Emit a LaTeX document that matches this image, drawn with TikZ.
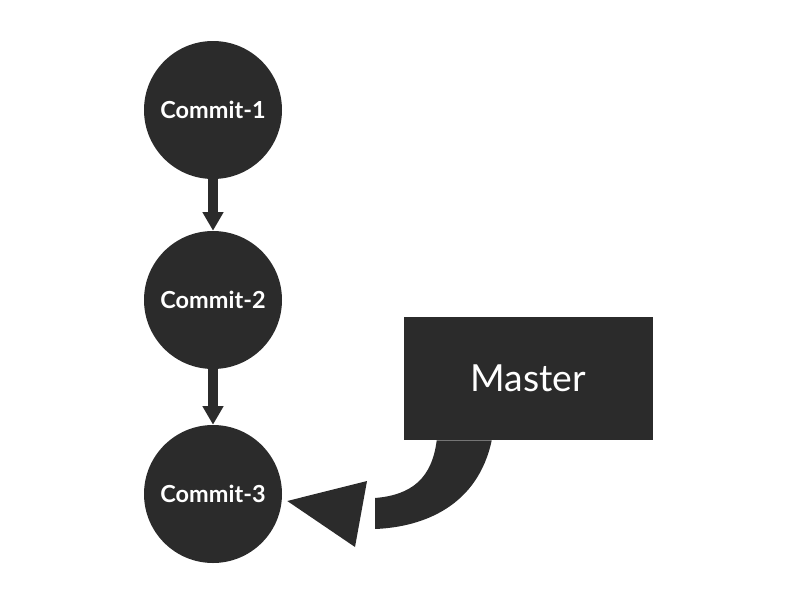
\documentclass[tikz,border=0pt]{standalone}
\usepackage{fontspec}
\setmainfont{Lato}
\usetikzlibrary{arrows.meta,calc}
\definecolor{ink}{HTML}{2B2B2B}
\begin{document}
\begin{tikzpicture}[
	x=0.75pt, y=-0.75pt,
	commit/.style = {circle, fill=ink, text=white, minimum size=103.5pt, inner sep=0pt, font=\fontsize{17.6}{20}\selectfont\bfseries},
	branch/.style = {rectangle, fill=ink, text=white, minimum width=186.75pt, minimum height=92.25pt, inner sep=0pt, font=\fontsize{28}{32}\selectfont},
	link/.style   = {-{Triangle[length=14pt, width=15pt]}, draw=ink, line width=7.5pt},
	>=latex]
	\useasboundingbox (0,0) rectangle (800,600);
	
	% the chain of commits
	\node[commit] (c1) at (213,110) {Commit-1};
	\node[commit] (c2) at (213,300) {Commit-2};
	\node[commit] (c3) at (213,494) {Commit-3};
	
	% the branch label
	\node[branch] (m) at (528.5,378.5) {Master};
	
	% parent links
	\foreach \a/\b in {c1/c2,c2/c3}
	\draw[link] (\a.south) -- (\b.north);
	
	% bent pointer from the branch to its commit
	\coordinate (p1) at ($(m.south west)+(33,0)$);
	\coordinate (p2) at ($(m.south west)+(88,0)$);
	\coordinate (tip) at ($(c3.east)+(5,7)$);
	\fill[ink] (p2) .. controls (478,505) and (425,527) .. (375,529)
		-- (375,498) .. controls (412,495) and (432,478) .. (p1) -- cycle;
	\fill[ink] (tip) -- (367,481) -- (355,547) -- cycle;
\end{tikzpicture}
\end{document}
